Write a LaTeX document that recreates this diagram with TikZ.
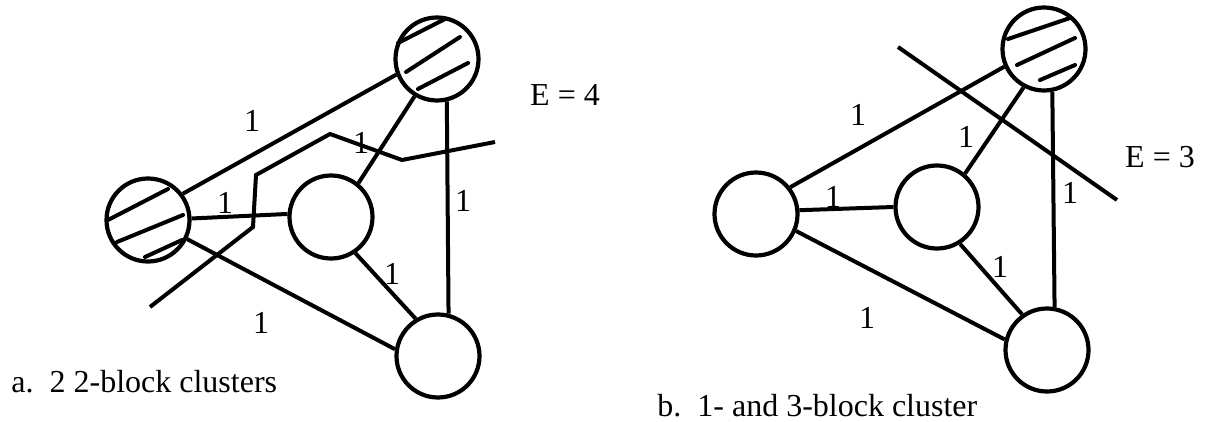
\documentclass[tikz,border=0pt]{standalone}
\usepackage{fontspec}
\setmainfont{Liberation Serif}
\begin{document}
\begin{tikzpicture}[x=0.5pt,y=-0.5pt,
  blk/.style={circle,draw,line width=2.1pt,minimum size=41.5pt,inner sep=0pt},
  link/.style={line width=2pt},
  cutline/.style={line width=2pt,line join=miter},
  hatch/.style={line width=2pt,line cap=round},
  wt/.style={font=\fontsize{16}{19}\selectfont,inner sep=0pt},
  captext/.style={font=\fontsize{16}{19}\selectfont,inner sep=0pt,anchor=base west}]
\useasboundingbox (0,0) rectangle (1214,422);

% ---------- a ----------
\node[blk] (LT) at (437,59) {};
\node[blk] (LL) at (148,220) {};
\node[blk] (LM) at (331,217) {};
\node[blk] (LB) at (438,356) {};

\draw[link] (LL.37.6) -- (LT.-159.4);
\draw[link] (LM.51.9) -- (LT.-121);
\draw[link] (LT.-77.9) -- (LB.76.9);
\draw[link] (LL.2.7) -- (LM.176);
\draw[link] (LL.-26.6) -- (LB.171.5);
\draw[link] (LM.-56.3) -- (LB.121.2);

\draw[hatch] (398,43) -- (445,19);
\draw[hatch] (406,72) -- (460,37);
\draw[hatch] (418,89) -- (468,63);
\draw[hatch] (108,220) -- (168,189);
\draw[hatch] (117,242) -- (183,215);
\draw[hatch] (145,257) -- (182,240);

\coordinate (ca1) at (150,307);
\coordinate (ca2) at (253,227);
\coordinate (ca3) at (256,175);
\coordinate (ca4) at (330,134);
\coordinate (ca5) at (402,160);
\coordinate (ca6) at (495,142);
\draw[cutline] (ca1) -- (ca2) -- (ca3) -- (ca4) -- (ca5) -- (ca6);

\node[wt] (la1) at (252,121) {1};
\node[wt] (la2) at (361,143) {1};
\node[wt] (la3) at (463,201) {1};
\node[wt] (la4) at (225,203) {1};
\node[wt] (la5) at (261,323) {1};
\node[wt] (la6) at (392,274) {1};
\node[wt] (Ea) at (565,95) {E = 4};
\node[captext] (capa) at (11,392) {a.\ \ 2 2-block clusters};

% ---------- b ----------
\node[blk] (RT) at (1044,49) {};
\node[blk] (RL) at (756,214) {};
\node[blk] (RM) at (937,207) {};
\node[blk] (RB) at (1047,350) {};

\draw[link] (RL.38.9) -- (RT.-156.3);
\draw[link] (RM.50.5) -- (RT.-118.2);
\draw[link] (RT.-79.5) -- (RB.80.3);
\draw[link] (RL.5.4) -- (RM.180);
\draw[link] (RL.-23.4) -- (RB.166.6);
\draw[link] (RM.-58.8) -- (RB.125.5);

\draw[hatch] (1008,39) -- (1070,18);
\draw[hatch] (1017,65) -- (1075,38);
\draw[hatch] (1040,80) -- (1075,65);

\coordinate (cb1) at (898,47);
\coordinate (cb2) at (1117,200);
\draw[cutline] (cb1) -- (cb2);

\node[wt] (lb1) at (858,115) {1};
\node[wt] (lb2) at (966,137) {1};
\node[wt] (lb3) at (1070,193) {1};
\node[wt] (lb4) at (833,197) {1};
\node[wt] (lb5) at (867,318) {1};
\node[wt] (lb6) at (1000,267) {1};
\node[wt] (Eb) at (1160,157) {E = 3};
\node[captext] (capb) at (657,416) {b.\ \ 1- and 3-block cluster};
\end{tikzpicture}
\end{document}
